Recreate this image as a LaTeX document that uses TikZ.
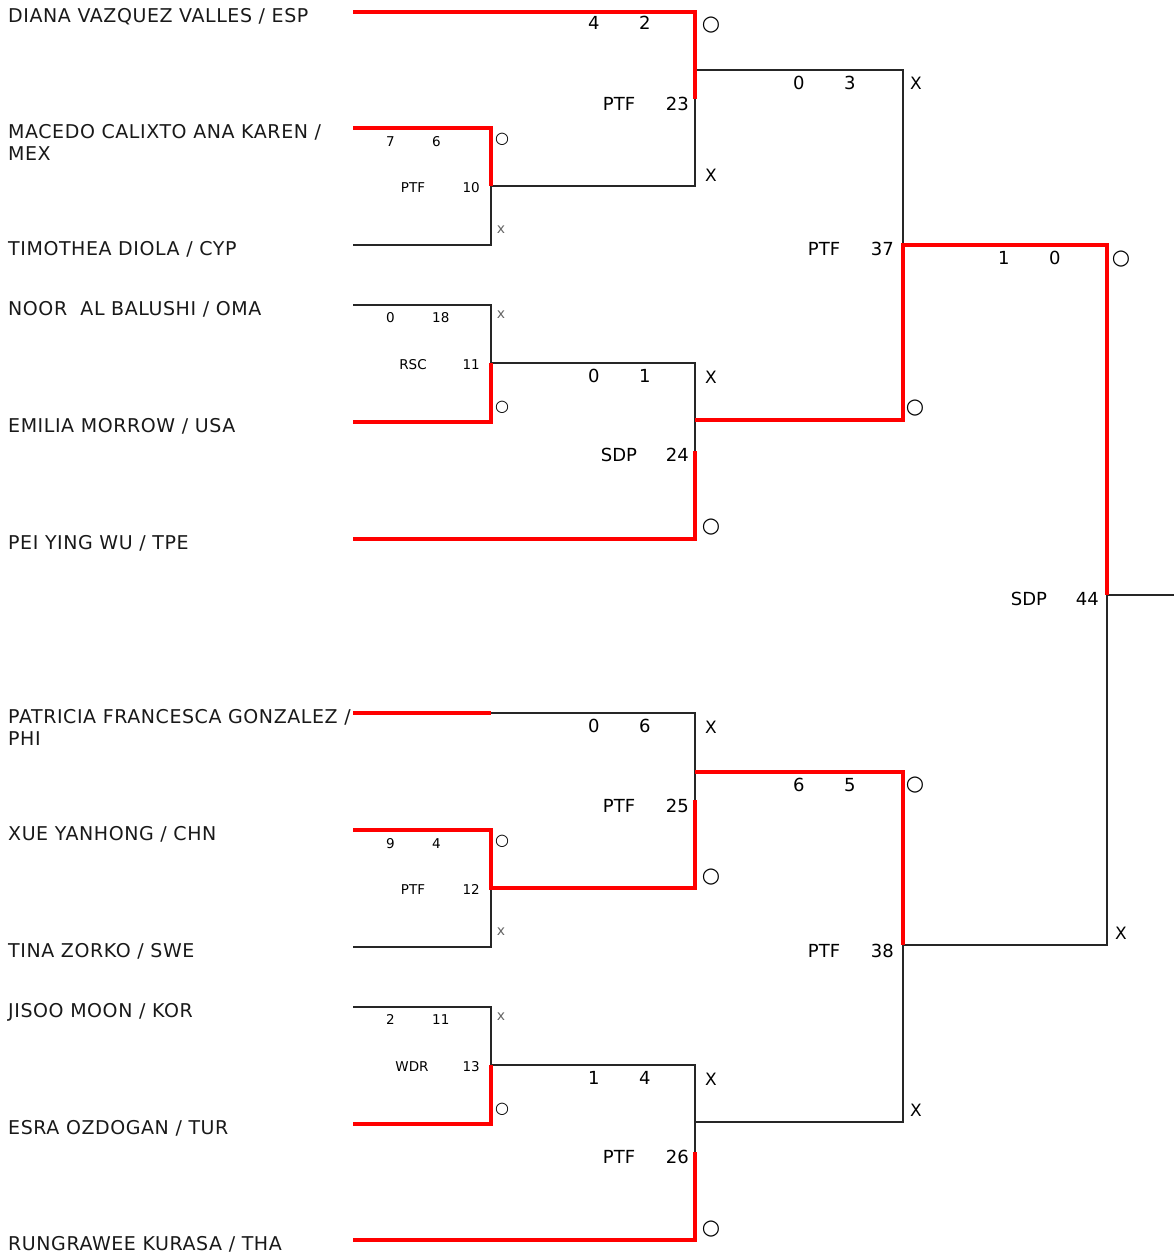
\documentclass[tikz,border=0pt]{standalone}
\usepackage{fontspec}
\setmainfont{DejaVu Sans}
\newfontfamily\namefam[LetterSpace=3]{DejaVu Sans}
\usetikzlibrary{positioning}

\newcommand{\namefnt}{\namefam\fontsize{19}{22}\selectfont}
\newcommand{\lblbig}{\fontsize{18}{20}\selectfont}
\newcommand{\lblsml}{\fontsize{13.5}{16}\selectfont}

\tikzset{
  win/.style={draw=red, line width=4pt},
  lose/.style={draw=black!85, line width=1.2pt},
  player/.style={anchor=north west, inner sep=0pt, align=left, font=\namefnt, text=black!90},
  score/.style={anchor=base west, inner sep=0pt, font=\lblbig},
  sscore/.style={anchor=base west, inner sep=0pt, font=\lblsml},
  how/.style={anchor=base, inner sep=0pt, font=\lblbig},
  show/.style={anchor=base, inner sep=0pt, font=\lblsml},
  mnum/.style={anchor=base east, inner sep=0pt, font=\lblbig},
  smnum/.style={anchor=base east, inner sep=0pt, font=\lblsml},
  won/.style={inner sep=0pt, font=\fontsize{21}{21}\selectfont},
  swon/.style={inner sep=0pt, font=\fontsize{16}{16}\selectfont},
  lost/.style={inner sep=0pt, font=\fontsize{17}{17}\selectfont},
  slost/.style={inner sep=0pt, font=\fontsize{14}{14}\selectfont, text=black!60}
}

\begin{document}
\begin{tikzpicture}[x=1pt,y=-1pt]
  \useasboundingbox (0,0) rectangle (1174,1255);

  % players
  \node[player] (n1) at (8,8.5) {DIANA VAZQUEZ VALLES / ESP};
  \node[player] (n2) at (8,124.5) {MACEDO CALIXTO ANA KAREN /\\MEX};
  \node[player] (n3) at (8,241.5) {TIMOTHEA DIOLA / CYP};
  \node[player] (n4) at (8,301.5) {NOOR\ \ AL BALUSHI / OMA};
  \node[player] (n5) at (8,418.5) {EMILIA MORROW / USA};
  \node[player] (n6) at (8,535.5) {PEI YING WU / TPE};
  \node[player] (n7) at (8,709.5) {PATRICIA FRANCESCA GONZALEZ /\\PHI};
  \node[player] (n8) at (8,826.5) {XUE YANHONG / CHN};
  \node[player] (n9) at (8,943.5) {TINA ZORKO / SWE};
  \node[player] (n10) at (8,1003.5) {JISOO MOON / KOR};
  \node[player] (n11) at (8,1120.5) {ESRA OZDOGAN / TUR};
  \node[player] (n12) at (8,1236.5) {RUNGRAWEE KURASA / THA};

  % line starts
  \coordinate (p1) at (353,12);
  \coordinate (p2) at (353,128);
  \coordinate (p3) at (353,245);
  \coordinate (p4) at (353,305);
  \coordinate (p5) at (353,422);
  \coordinate (p6) at (353,539);
  \coordinate (p7) at (353,713);
  \coordinate (p7r) at (491,713);
  \coordinate (p8) at (353,830);
  \coordinate (p9) at (353,947);
  \coordinate (p10) at (353,1007);
  \coordinate (p11) at (353,1124);
  \coordinate (p12) at (353,1240);

  % matches: t top, b bottom, c split, o exit
  \coordinate (m10t) at (491,128);  \coordinate (m10b) at (491,245);
  \coordinate (m10c) at (491,186);
  \coordinate (m11t) at (491,305);  \coordinate (m11b) at (491,422);
  \coordinate (m11c) at (491,363);
  \coordinate (m12t) at (491,830);  \coordinate (m12b) at (491,947);
  \coordinate (m12c) at (491,888);
  \coordinate (m13t) at (491,1007); \coordinate (m13b) at (491,1124);
  \coordinate (m13c) at (491,1065);
  \coordinate (m23t) at (695,12);   \coordinate (m23b) at (695,186);
  \coordinate (m23c) at (695,99);   \coordinate (m23o) at (695,70);
  \coordinate (m24t) at (695,363);  \coordinate (m24b) at (695,539);
  \coordinate (m24c) at (695,451);  \coordinate (m24o) at (695,420);
  \coordinate (m25t) at (695,713);  \coordinate (m25b) at (695,888);
  \coordinate (m25c) at (695,800);  \coordinate (m25o) at (695,772);
  \coordinate (m26t) at (695,1065); \coordinate (m26b) at (695,1240);
  \coordinate (m26c) at (695,1152); \coordinate (m26o) at (695,1122);
  \coordinate (m37t) at (903,70);   \coordinate (m37b) at (903,420);
  \coordinate (m37c) at (903,245);
  \coordinate (m38t) at (903,772);  \coordinate (m38b) at (903,1122);
  \coordinate (m38c) at (903,945);
  \coordinate (m44t) at (1107,245); \coordinate (m44b) at (1107,945);
  \coordinate (m44c) at (1107,595);
  \coordinate (fin) at (1174,595);

  % losing paths
  \draw[lose] (p3) -- (m10b) -- (m10c) -- (m23b) -- (m23c);
  \draw[lose] (m23o) -- (m37t) -- (m37c);
  \draw[lose] (p4) -- (m11t) -- (m11c) -- (m24t) -- (m24c);
  \draw[lose] (p7r) -- (m25t) -- (m25c);
  \draw[lose] (p9) -- (m12b) -- (m12c);
  \draw[lose] (p10) -- (m13t) -- (m13c) -- (m26t) -- (m26c);
  \draw[lose] (m26o) -- (m38b) -- (m38c) -- (m44b) -- (m44c) -- (fin);

  % winning paths
  \draw[win] (p1) -- (m23t) -- (m23c);
  \draw[win] (p2) -- (m10t) -- (m10c);
  \draw[win] (p5) -- (m11b) -- (m11c);
  \draw[win] (p6) -- (m24b) -- (m24c);
  \draw[win] (m24o) -- (m37b) -- (m37c) -- (m44t) -- (m44c);
  \draw[win] (p7) -- (p7r);
  \draw[win] (p8) -- (m12t) -- (m12c) -- (m25b) -- (m25c);
  \draw[win] (m25o) -- (m38t) -- (m38c);
  \draw[win] (p11) -- (m13b) -- (m13c);
  \draw[win] (p12) -- (m26b) -- (m26c);

  % match 10
  \node[sscore] (m10s1) at (386,146) {7};
  \node[sscore] (m10s2) at (432,146) {6};
  \node[show] (m10h) at (413,192) {PTF};
  \node[smnum] (m10n) at (480,192) {10};
  \node[swon] (m10w) at (502,139) {○};
  \node[slost] (m10l) at (501,230) {x};
  % match 11
  \node[sscore] (m11s1) at (386,322) {0};
  \node[sscore] (m11s2) at (432,322) {18};
  \node[show] (m11h) at (413,369) {RSC};
  \node[smnum] (m11n) at (480,369) {11};
  \node[slost] (m11l) at (501,315) {x};
  \node[swon] (m11w) at (502,407) {○};
  % match 12
  \node[sscore] (m12s1) at (386,848) {9};
  \node[sscore] (m12s2) at (432,848) {4};
  \node[show] (m12h) at (413,894) {PTF};
  \node[smnum] (m12n) at (480,894) {12};
  \node[swon] (m12w) at (502,841) {○};
  \node[slost] (m12l) at (501,932) {x};
  % match 13
  \node[sscore] (m13s1) at (386,1024) {2};
  \node[sscore] (m13s2) at (432,1024) {11};
  \node[show] (m13h) at (412,1071) {WDR};
  \node[smnum] (m13n) at (480,1071) {13};
  \node[slost] (m13l) at (501,1017) {x};
  \node[swon] (m13w) at (502,1109) {○};

  % match 23
  \node[score] (m23s1) at (588,30) {4};
  \node[score] (m23s2) at (639,30) {2};
  \node[how] (m23h) at (619,110) {PTF};
  \node[mnum] (m23n) at (689,110) {23};
  \node[won] (m23w) at (711,25) {○};
  \node[lost] (m23l) at (711,175) {X};
  % match 24
  \node[score] (m24s1) at (588,382) {0};
  \node[score] (m24s2) at (639,382) {1};
  \node[how] (m24h) at (619,461) {SDP};
  \node[mnum] (m24n) at (689,461) {24};
  \node[lost] (m24l) at (711,377) {X};
  \node[won] (m24w) at (711,527) {○};
  % match 25
  \node[score] (m25s1) at (588,732) {0};
  \node[score] (m25s2) at (639,732) {6};
  \node[how] (m25h) at (619,812) {PTF};
  \node[mnum] (m25n) at (689,812) {25};
  \node[lost] (m25l) at (711,727) {X};
  \node[won] (m25w) at (711,877) {○};
  % match 26
  \node[score] (m26s1) at (588,1084) {1};
  \node[score] (m26s2) at (639,1084) {4};
  \node[how] (m26h) at (619,1163) {PTF};
  \node[mnum] (m26n) at (689,1163) {26};
  \node[lost] (m26l) at (711,1079) {X};
  \node[won] (m26w) at (711,1229) {○};

  % match 37
  \node[score] (m37s1) at (793,89) {0};
  \node[score] (m37s2) at (844,89) {3};
  \node[how] (m37h) at (824,255) {PTF};
  \node[mnum] (m37n) at (894,255) {37};
  \node[lost] (m37l) at (916,83) {X};
  \node[won] (m37w) at (915,408) {○};
  % match 38
  \node[score] (m38s1) at (793,791) {6};
  \node[score] (m38s2) at (844,791) {5};
  \node[how] (m38h) at (824,957) {PTF};
  \node[mnum] (m38n) at (894,957) {38};
  \node[won] (m38w) at (915,785) {○};
  \node[lost] (m38l) at (916,1110) {X};

  % match 44
  \node[score] (m44s1) at (998,264) {1};
  \node[score] (m44s2) at (1049,264) {0};
  \node[how] (m44h) at (1029,605) {SDP};
  \node[mnum] (m44n) at (1099,605) {44};
  \node[won] (m44w) at (1121,259) {○};
  \node[lost] (m44l) at (1121,933) {X};
\end{tikzpicture}
\end{document}
